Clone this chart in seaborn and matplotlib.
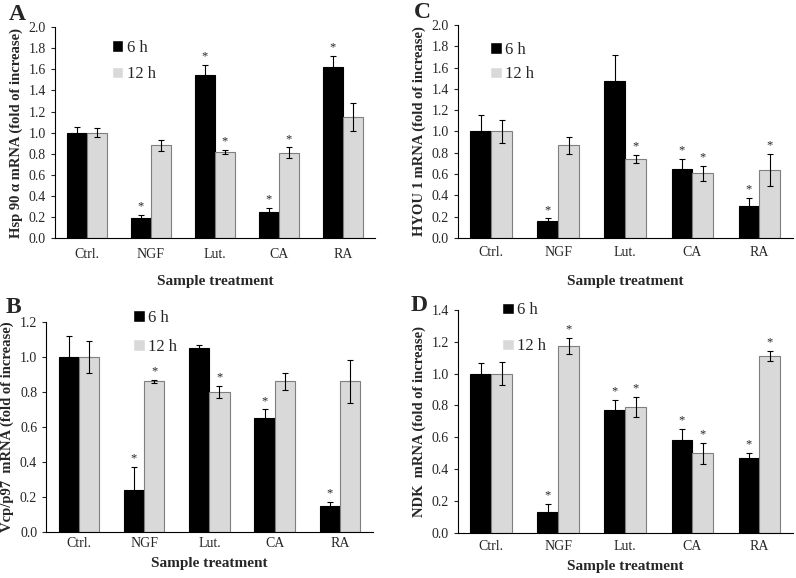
import numpy as np
import pandas as pd
import seaborn as sns
import matplotlib.pyplot as plt

treatments = ['Ctrl.', 'NGF', 'Lut.', 'CA', 'RA']
times = ['6 h', '12 h']

# Panel A - Hsp 90 alpha
a_6h = [1.00, 0.19, 1.55, 0.25, 1.62]
a_6h_err = [0.05, 0.03, 0.09, 0.04, 0.11]
a_12h = [1.00, 0.88, 0.82, 0.81, 1.15]
a_12h_err = [0.04, 0.05, 0.02, 0.05, 0.13]
a_star_6h = [0, 1, 1, 1, 1]
a_star_12h = [0, 0, 1, 1, 0]

# Panel B - Vcp/p97
b_6h = [1.00, 0.24, 1.05, 0.65, 0.15]
b_6h_err = [0.12, 0.13, 0.02, 0.05, 0.02]
b_12h = [1.00, 0.86, 0.80, 0.86, 0.86]
b_12h_err = [0.09, 0.01, 0.035, 0.05, 0.125]
b_star_6h = [0, 1, 0, 1, 1]
b_star_12h = [0, 1, 1, 0, 0]

# Panel C - HYOU 1
c_6h = [1.00, 0.16, 1.47, 0.65, 0.30]
c_6h_err = [0.15, 0.025, 0.25, 0.09, 0.08]
c_12h = [1.00, 0.87, 0.74, 0.61, 0.64]
c_12h_err = [0.11, 0.08, 0.04, 0.07, 0.15]
c_star_6h = [0, 1, 0, 1, 1]
c_star_12h = [0, 0, 1, 1, 1]

# Panel D - NDK
d_6h = [1.00, 0.13, 0.77, 0.58, 0.47]
d_6h_err = [0.065, 0.05, 0.065, 0.075, 0.03]
d_12h = [1.00, 1.17, 0.79, 0.50, 1.11]
d_12h_err = [0.07, 0.05, 0.06, 0.065, 0.03]
d_star_6h = [0, 1, 1, 1, 1]
d_star_12h = [0, 1, 1, 1, 1]

sns.set_theme(style='ticks')
plt.rcParams['font.family'] = ['Liberation Serif', 'DejaVu Serif']

colors = {'6 h': 'black', '12 h': '#d9d9d9'}
edges = {'6 h': 'black', '12 h': '#7f7f7f'}


def draw_panel(ax, letter, ylabel, v6, e6, v12, e12, s6, s12, ymax,
               leg_anchor, leg_space, letter_pos, xpad):
    df = pd.DataFrame({
        'treatment': treatments * 2,
        'time': ['6 h'] * 5 + ['12 h'] * 5,
        'value': v6 + v12,
    })
    sns.barplot(data=df, x='treatment', y='value', hue='time', order=treatments,
                hue_order=times, palette=colors, errorbar=None, width=0.62,
                ax=ax)
    errs = {'6 h': e6, '12 h': e12}
    stars = {'6 h': s6, '12 h': s12}
    for cont, t in zip(ax.containers, times):
        for i, bar in enumerate(cont):
            bar.set_edgecolor(edges[t])
            bar.set_linewidth(0.8)
            cx = bar.get_x() + bar.get_width() / 2
            h = bar.get_height()
            ax.errorbar(cx, h, yerr=errs[t][i], fmt='none', ecolor='black',
                        elinewidth=0.8, capsize=2.5, capthick=0.8)
            if stars[t][i]:
                ax.text(cx, h + errs[t][i] + ymax * 0.012, '*', ha='center',
                        va='bottom', fontsize=9)
    ticks = np.arange(0, ymax + 0.001, 0.2)
    ax.set_ylim(0, ymax)
    ax.set_yticks(ticks)
    ax.set_yticklabels([f'{v:.1f}' for v in ticks])
    ax.set_xlim(-0.5, 4.5)
    ax.tick_params(axis='y', labelsize=10, length=3, width=0.8)
    ax.tick_params(axis='x', labelsize=10, length=0, pad=xpad[0])
    ax.set_xlabel('Sample treatment', fontsize=11, fontweight='bold',
                  labelpad=xpad[1])
    ax.set_ylabel(ylabel, fontsize=10.5, fontweight='bold', labelpad=4)
    for sp in ['top', 'right']:
        ax.spines[sp].set_visible(False)
    for sp in ['left', 'bottom']:
        ax.spines[sp].set_linewidth(0.8)
        ax.spines[sp].set_color('black')
    ax.legend(loc='upper left', bbox_to_anchor=leg_anchor, frameon=False,
              fontsize=12, handlelength=0.7, handleheight=0.7,
              handletextpad=0.2, labelspacing=leg_space, title=None)
    ax.text(letter_pos[0], letter_pos[1], letter, transform=ax.transAxes,
            fontsize=17, fontweight='bold', va='center', ha='left')


fig = plt.figure(figsize=(7.96, 5.78), dpi=100)
ax_a = fig.add_axes([0.069, 0.588, 0.402, 0.365])
ax_c = fig.add_axes([0.575, 0.588, 0.421, 0.369])
ax_b = fig.add_axes([0.058, 0.080, 0.410, 0.363])
ax_d = fig.add_axes([0.575, 0.078, 0.421, 0.386])

draw_panel(ax_a, 'A', 'Hsp 90 α mRNA (fold of increase)', a_6h, a_6h_err,
           a_12h, a_12h_err, a_star_6h, a_star_12h, 2.0,
           (0.13, 1.01), 0.62, (-0.145, 1.06), (7, 10))
draw_panel(ax_c, 'C', 'HYOU 1 mRNA (fold of increase)', c_6h, c_6h_err,
           c_12h, c_12h_err, c_star_6h, c_star_12h, 2.0,
           (0.053, 0.99), 0.5, (-0.13, 1.06), (6, 11))
draw_panel(ax_b, 'B', 'Vcp/p97  mRNA (fold of increase)', b_6h, b_6h_err,
           b_12h, b_12h_err, b_star_6h, b_star_12h, 1.2,
           (0.22, 1.13), 0.8, (-0.125, 1.07), (4, 5))
draw_panel(ax_d, 'D', 'NDK  mRNA (fold of increase)', d_6h, d_6h_err,
           d_12h, d_12h_err, d_star_6h, d_star_12h, 1.4,
           (0.088, 1.10), 1.2, (-0.14, 1.02), (5, 5))

plt.savefig('out.png', dpi=100)
plt.close()
